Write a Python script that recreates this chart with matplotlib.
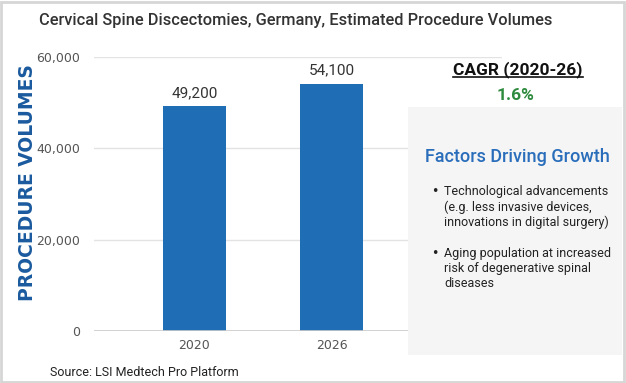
import matplotlib
matplotlib.use("Agg")
import matplotlib.pyplot as plt
from matplotlib.patches import Rectangle
from matplotlib.lines import Line2D

years = ["2020", "2026"]
volumes = [49200, 54100]
y_ticks = [0, 20000, 40000, 60000]
title = "Cervical Spine Discectomies, Germany, Estimated Procedure Volumes"
cagr_label = "CAGR (2020-26)"
cagr_value = "1.6%"
factors = [
    "Technological advancements\n(e.g. less invasive devices,\ninnovations in digital surgery)",
    "Aging population at increased\nrisk of degenerative spinal\ndiseases",
]
source = "Source: LSI Medtech Pro Platform"

W, H = 626, 383
fig = plt.figure(figsize=(W / 100, H / 100), dpi=100)
fig.patch.set_facecolor("white")


def fx(px):
    return px / W


def fy(py):
    return 1 - py / H


# plot area
ax = fig.add_axes([fx(94), fy(331), fx(502) - fx(94), fy(57) - fy(331)])
x = list(range(len(years)))
bars = ax.bar(x, volumes, width=0.46, color="#1f6db5", zorder=3)
ax.set_xlim(-0.73, 2.24)
ax.set_ylim(0, 60000)
ax.set_yticks(y_ticks)
ax.set_yticklabels([f"{v:,}" for v in y_ticks])
ax.set_xticks(x)
ax.set_xticklabels(years)
ax.tick_params(axis="both", length=0, labelsize=9, labelcolor="#555555")
ax.tick_params(axis="y", pad=10)
ax.tick_params(axis="x", pad=6)
ax.grid(axis="y", color="#e3e3e3", linewidth=1, zorder=0)
for s in ax.spines.values():
    s.set_visible(False)
ax.axhline(0, color="#cccccc", linewidth=1.2, zorder=4)
for b, v in zip(bars, volumes):
    ax.text(b.get_x() + b.get_width() / 2, v + 1400, f"{v:,}",
            ha="center", va="bottom", fontsize=11, color="#333333",
            family="Roboto")

# y label
fig.text(fx(28), fy(183), "PROCEDURE VOLUMES", rotation=90, ha="center",
         va="center", fontsize=13.5, fontweight="heavy", color="#1a5a9e",
         family="DejaVu Sans")

# title
fig.text(fx(39), fy(21), title, ha="left", va="center", fontsize=11.8,
         color="#333333", family="Roboto", fontweight="medium")

# CAGR
t = fig.text(fx(518), fy(70), cagr_label, ha="center", va="center",
             fontsize=12.5, fontweight="bold", color="#111111",
             family="Roboto")
fig.canvas.draw()
bb = t.get_window_extent()
fig.add_artist(Line2D([bb.x0 / W, bb.x1 / W], [(bb.y0 + 1) / H] * 2,
                      color="#111111", linewidth=1.2))
fig.text(fx(516), fy(95), cagr_value, ha="center", va="center",
         fontsize=12.5, fontweight="bold", color="#2e8b3e", family="Roboto")

# factors panel
fig.add_artist(Rectangle((fx(408), fy(355)), fx(622) - fx(408),
                         fy(107) - fy(355), transform=fig.transFigure,
                         facecolor="#f5f5f5", edgecolor="none", zorder=5))
fig.text(fx(517), fy(157), "Factors Driving Growth", ha="center",
         va="center", fontsize=13, color="#2a6ebb", family="Roboto",
         fontweight="medium", zorder=6)
tops = [185, 247]
for top, txt in zip(tops, factors):
    fig.text(fx(435), fy(top), "\u2022", ha="center", va="top", fontsize=9,
             color="#222222", zorder=6)
    fig.text(fx(444), fy(top), txt, ha="left", va="top", fontsize=9,
             color="#222222", family="Roboto", linespacing=1.22, zorder=6)

# source
fig.text(fx(50), fy(372), source, ha="left", va="center", fontsize=9,
         color="#222222", family="Roboto")

# outer border
fig.add_artist(Rectangle((0.002, 0.003), 0.995, 0.993,
                         transform=fig.transFigure, fill=False,
                         edgecolor="#d6d6d6", linewidth=2, zorder=10))

fig.savefig("out.png", dpi=100)
